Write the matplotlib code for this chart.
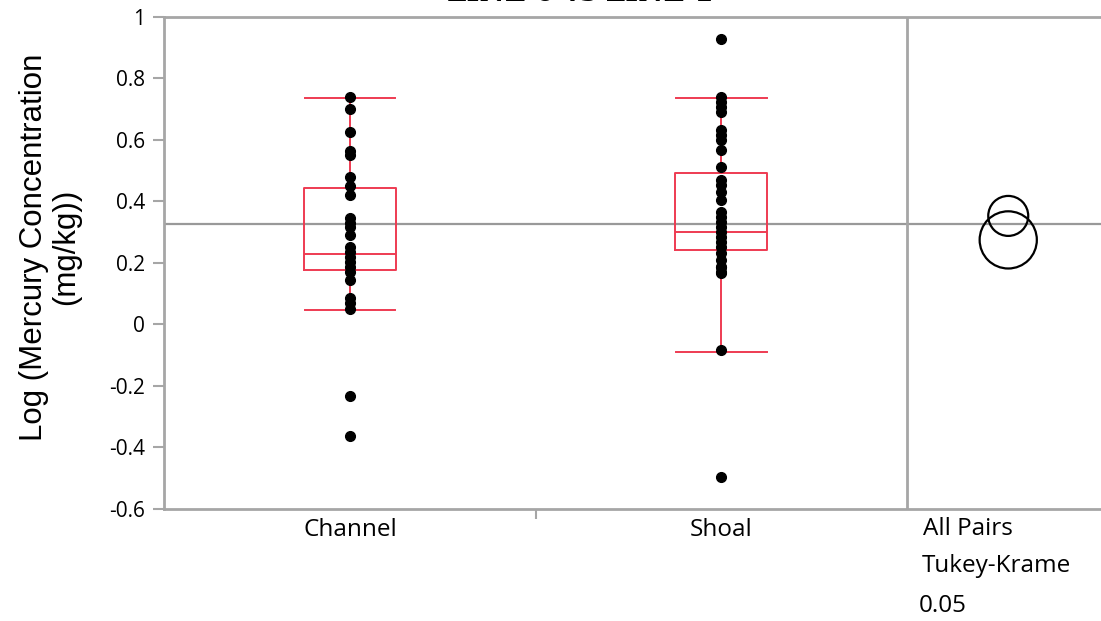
import numpy as np
import matplotlib
matplotlib.use("Agg")
import matplotlib.pyplot as plt
from matplotlib.patches import Ellipse

# valeurs
groups = ["Channel", "Shoal"]
channel_pts = [0.741, 0.700, 0.627, 0.564, 0.551, 0.481, 0.450, 0.421, 0.345,
               0.331, 0.318, 0.291, 0.253, 0.237, 0.220, 0.204, 0.188, 0.172,
               0.145, 0.085, 0.071, 0.049, -0.233, -0.363]
shoal_pts = [0.927, 0.741, 0.725, 0.708, 0.692, 0.633, 0.616, 0.600, 0.567,
             0.513, 0.470, 0.454, 0.432, 0.405, 0.367, 0.351, 0.334, 0.318,
             0.302, 0.286, 0.269, 0.253, 0.231, 0.210, 0.188, 0.187, 0.172,
             0.167, -0.083, -0.495]

# statistiques des boites (quantiles + moustaches)
box_q1 = [0.177, 0.242]
box_med = [0.229, 0.301]
box_q3 = [0.444, 0.493]
whisk_lo = [0.047, -0.089]
whisk_hi = [0.735, 0.735]

grand_mean = 0.327
# cercles de comparaison Tukey-Kramer
circle_centers = [0.275, 0.353]
circle_radii = [0.093, 0.065]

fig = plt.figure(figsize=(11.01, 6.21), dpi=100)
ax = fig.add_axes([0.1494, 0.1804, 0.8506, 0.7923])

gray = "#A6A6A6"
red = "#EE3B52"
pos = np.arange(len(groups))

stats = []
for i, g in enumerate(groups):
    stats.append(dict(label=g, med=box_med[i], q1=box_q1[i], q3=box_q3[i],
                      whislo=whisk_lo[i], whishi=whisk_hi[i], fliers=[]))
ax.bxp(stats, positions=pos, widths=0.25, showfliers=False,
       boxprops=dict(color=red, linewidth=1.4),
       medianprops=dict(color=red, linewidth=1.4),
       whiskerprops=dict(color=red, linewidth=1.4),
       capprops=dict(color=red, linewidth=1.4), capwidths=0.245,
       zorder=2)

for i, pts in enumerate([channel_pts, shoal_pts]):
    ax.plot(np.full(len(pts), pos[i]), pts, "o", color="black",
            markersize=7, zorder=3, clip_on=False)

ax.axhline(grand_mean, color="#999999", linewidth=1.6, zorder=1)
ax.axvline(1.5, color=gray, linewidth=2, zorder=1)

ax.set_xlim(-0.5, 2.024)
ax.set_ylim(-0.6, 1.0)

# cercles ronds en pixels : on corrige par le rapport d'echelle x/y
px_x = 0.8506 * 1101 / (2.024 + 0.5)
px_y = 0.7923 * 621 / 1.6
cx = 1.774
for c, r in zip(circle_centers, circle_radii):
    ax.add_patch(Ellipse((cx, c), width=2 * r * px_y / px_x, height=2 * r,
                         fill=False, edgecolor="black", linewidth=1.6, zorder=4))

ax.set_yticks(np.arange(-0.6, 1.01, 0.2))
ax.set_yticklabels(["-0.6", "-0.4", "-0.2", "0", "0.2", "0.4", "0.6", "0.8", "1"],
                   fontsize=15, family="Open Sans")
ax.tick_params(axis="y", length=8, width=1.5, color=gray, pad=6)
ax.set_xticks([0.5])
ax.set_xticklabels([""])
ax.tick_params(axis="x", length=7, width=1.5, color=gray)

for s in ["left", "bottom", "top"]:
    ax.spines[s].set_color(gray)
    ax.spines[s].set_linewidth(2)
ax.spines["right"].set_visible(False)

for i, g in enumerate(groups):
    ax.text(pos[i], -0.63, g, ha="center", va="top", fontsize=17.5,
            family="Open Sans")
ax.text(1.545, -0.625, "All Pairs", ha="left", va="top", fontsize=17.5, family="Open Sans")
ax.text(1.54, -0.748, "Tukey-Krame", ha="left", va="top", fontsize=17.5, family="Open Sans")
ax.text(1.532, -0.878, "0.05", ha="left", va="top", fontsize=17.5, family="Open Sans")

ax.set_ylabel("Log (Mercury Concentration\n(mg/kg))", fontsize=22.5,
              family="Liberation Sans", linespacing=1.1)
ax.yaxis.set_label_coords(-0.089, 0.532)

# titre coupe en haut, comme dans l'original
fig.text(0.527, 0.998, "LINE 0 vs LINE 1", ha="center", va="baseline",
         fontsize=20, family="DejaVu Serif", fontweight="bold")

fig.savefig("out.png", dpi=100)
